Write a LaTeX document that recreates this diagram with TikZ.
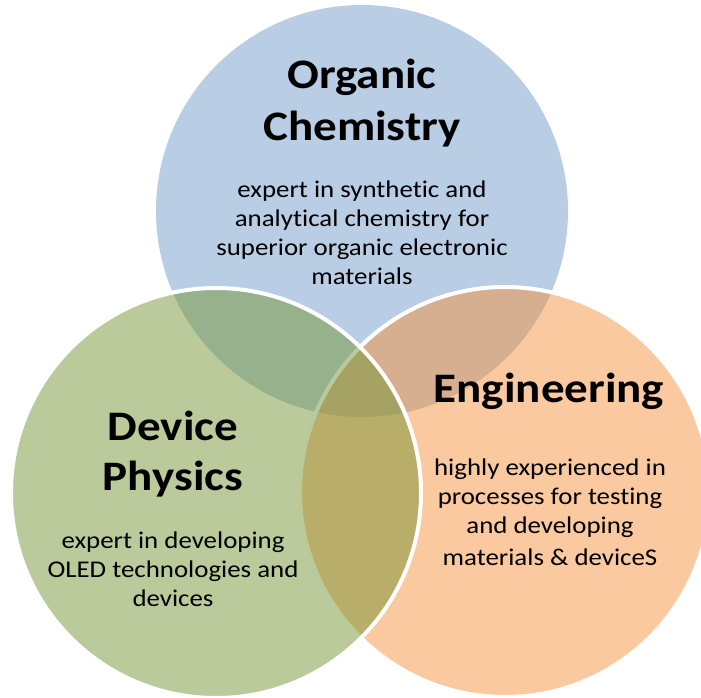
\documentclass[tikz,border=0pt]{standalone}
\usepackage{fontspec}
\setmainfont{Carlito}[FakeStretch=1.12, Ligatures={NoCommon}]
\definecolor{cblue}{RGB}{115,155,203}
\definecolor{cgreen}{RGB}{119,149,53}
\definecolor{corange}{RGB}{245,147,63}
\tikzset{
  ring/.style={draw=white, line width=4pt, fill opacity=0.5, draw opacity=1},
  title/.style={anchor=base, inner sep=0pt, font=\fontsize{42}{50}\selectfont\bfseries},
  body/.style={anchor=base, inner sep=0pt, font=\fontsize{24}{29}\selectfont}
}
\begin{document}
\begin{tikzpicture}[x=1pt,y=-1pt]
\useasboundingbox (0,0) rectangle (701,697);
\clip (0,0) rectangle (701,697);
% circles
\fill[cblue, fill opacity=0.5] (362,211) circle (206pt);
\path[ring, fill=corange] (505,492) circle (205pt);
\path[ring, fill=cgreen] (216,493) circle (205pt);
% Organic Chemistry
\node[title] (oc1) at (362,88) {Organic};
\node[title] (oc2) at (362,140) {Chemistry};
\node[body] (ot1) at (362,197) {expert in synthetic and};
\node[body] (ot2) at (362,226) {analytical chemistry for};
\node[body] (ot3) at (362,255) {superior organic electronic};
\node[body] (ot4) at (362,284) {materials};
% Device Physics
\node[title] (dp1) at (173,440) {Device};
\node[title] (dp2) at (173,490) {Physics};
\node[body] (dt1) at (173,548) {expert in developing};
\node[body] (dt2) at (173,577) {OLED technologies and};
\node[body] (dt3) at (173,606) {devices};
% Engineering
\node[title] (en1) at (549,402) {Engineering};
\node[body] (et1) at (550,475) {highly experienced in};
\node[body] (et2) at (550,504) {processes for testing};
\node[body] (et3) at (550,533) {and developing};
\node[body] (et4) at (550,565) {materials \& deviceS};
\end{tikzpicture}
\end{document}
